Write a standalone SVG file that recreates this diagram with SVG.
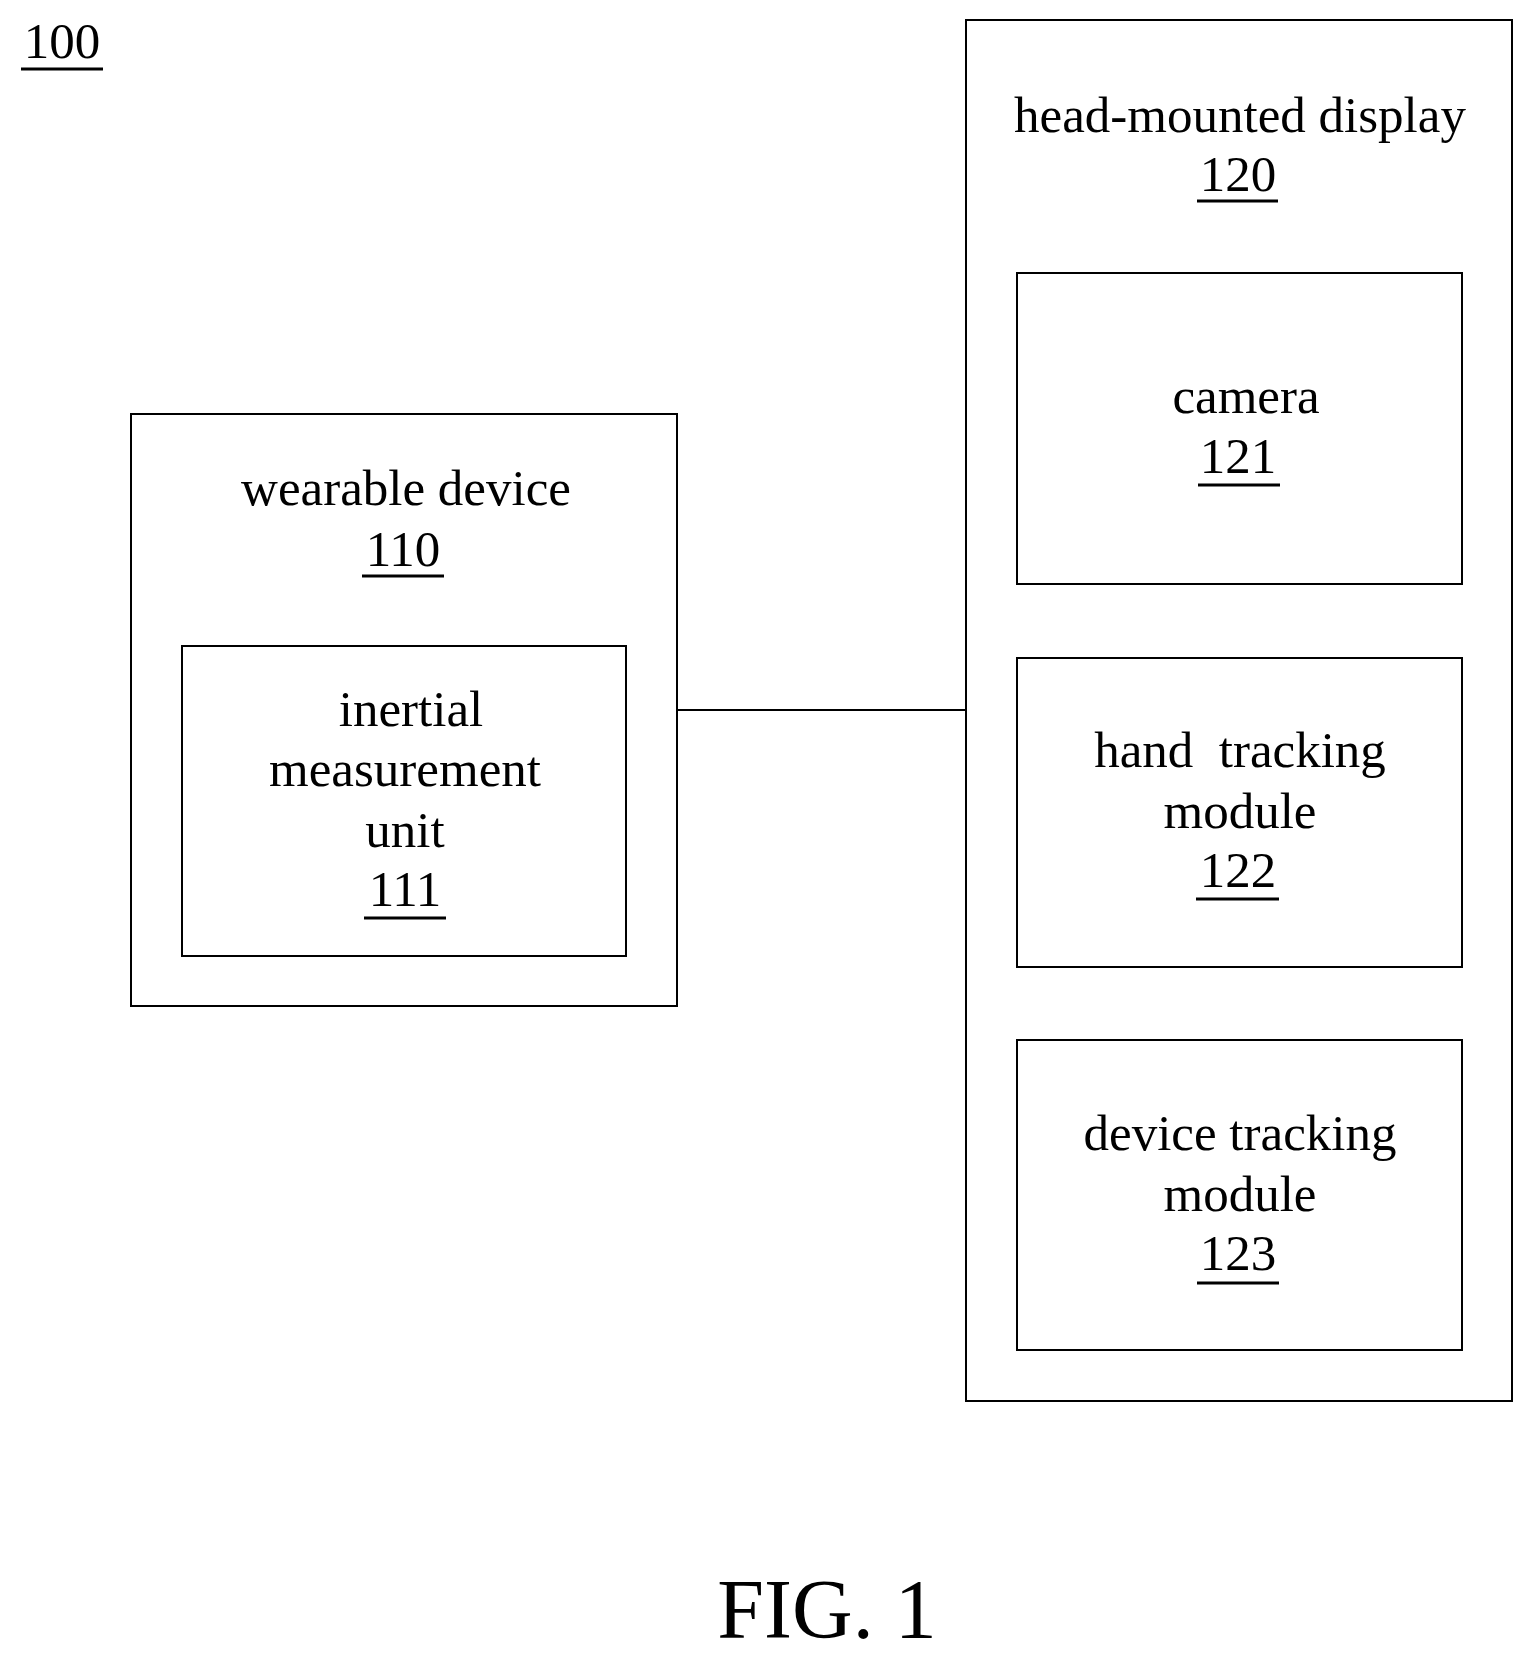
<svg xmlns="http://www.w3.org/2000/svg" width="1532" height="1660" viewBox="0 0 1532 1660">
<style>
rect{fill:none;stroke:#000;stroke-width:2}
text{font-family:"Liberation Serif",serif;font-size:51px;text-anchor:middle;fill:#000}
.u{stroke:#000;stroke-width:3}
</style>
<rect width="1532" height="1660" fill="#fff" style="fill:#fff;stroke:none"/>
<g id="label100"><text x="62" y="58">100</text><line class="u" x1="21" y1="69" x2="103" y2="69"/></g>
<g id="connectors"><line x1="677" y1="710" x2="966" y2="710" stroke="#000" stroke-width="2"/></g>
<g id="hmd"><rect x="966" y="20" width="546" height="1381"/>
<text x="1240" y="132">head-mounted display</text><text x="1238" y="191">120</text><line class="u" x1="1197" y1="201" x2="1278" y2="201"/></g>
<g id="camera"><rect x="1017" y="273" width="445" height="311"/>
<text x="1246" y="413">camera</text><text x="1238" y="473">121</text><line class="u" x1="1198" y1="485" x2="1280" y2="485"/></g>
<g id="hand"><rect x="1017" y="658" width="445" height="309"/>
<text x="1240" y="767" xml:space="preserve">hand  tracking</text><text x="1240" y="828">module</text><text x="1238" y="887">122</text><line class="u" x1="1196" y1="899" x2="1279" y2="899"/></g>
<g id="devtrack"><rect x="1017" y="1040" width="445" height="310"/>
<text x="1240" y="1150">device tracking</text><text x="1240" y="1211">module</text><text x="1238" y="1270">123</text><line class="u" x1="1197" y1="1283" x2="1279" y2="1283"/></g>
<g id="wearable"><rect x="131" y="414" width="546" height="592"/>
<text x="406" y="505">wearable device</text><text x="403" y="566">110</text><line class="u" x1="362" y1="576" x2="444" y2="576"/></g>
<g id="imu"><rect x="182" y="646" width="444" height="310"/>
<text x="411" y="726">inertial</text><text x="405" y="786">measurement</text><text x="405" y="847">unit</text><text x="405" y="906">111</text><line class="u" x1="364" y1="918" x2="446" y2="918"/></g>
<text x="827" y="1638" style="font-size:84px">FIG. 1</text>
</svg>
